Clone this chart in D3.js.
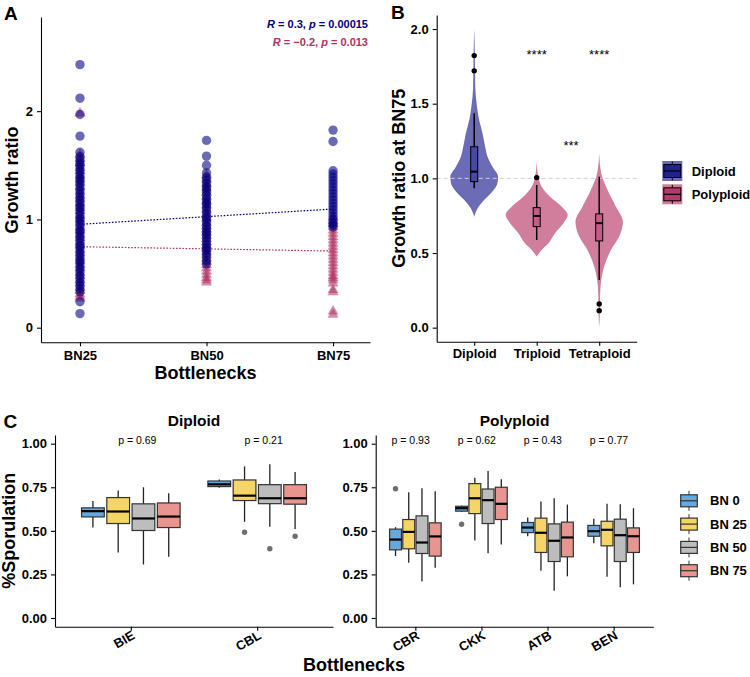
<!DOCTYPE html>
<html><head><meta charset="utf-8">
<script src="https://cdn.jsdelivr.net/npm/d3@7"></script>
<style>body{margin:0;background:#fff}</style>
</head><body><svg id="c" width="750" height="677"></svg>
<script>
// ================= DATA =================
// Panel A
const bottlenecks = ["BN25", "BN50", "BN75"];
const bnLevel = [25, 50, 75];
const diploidBN25 = [2.43,2.12,1.97,1.77,1.62,1.58,1.55,1.52,1.50,1.47,1.44,1.41,1.38,1.36,1.33,1.30,1.27,1.24,1.21,1.18,1.15,1.12,1.10,1.07,1.04,1.01,0.99,0.96,0.93,0.90,0.88,0.85,0.82,0.79,0.76,0.74,0.71,0.68,0.65,0.62,0.60,0.57,0.54,0.51,0.48,0.45,0.42,0.39,0.36,0.33,0.24,0.13];
const diploidBN50 = [1.73,1.585,1.50,1.43,1.39,1.36,1.33,1.30,1.28,1.25,1.22,1.19,1.16,1.14,1.11,1.08,1.05,1.02,1.00,0.97,0.94,0.91,0.88,0.86,0.83,0.80,0.77,0.74,0.72,0.69,0.66,0.62,0.59];
const diploidBN75 = [1.825,1.72,1.45,1.42,1.39,1.36,1.33,1.30,1.27,1.24,1.21,1.18,1.15,1.12,1.09,1.06,1.03,1.00,0.97,0.95,0.93];
const polyBN25 = [1.98,1.60,1.56,1.52,1.48,1.45,1.41,1.37,1.34,1.30,1.26,1.22,1.19,1.15,1.11,1.08,1.04,1.00,0.97,0.93,0.90,0.86,0.83,0.79,0.76,0.72,0.69,0.65,0.62,0.58,0.55,0.51,0.48,0.44,0.41,0.37,0.34,0.31,0.29,0.27];
const polyBN50 = [1.41,1.37,1.33,1.29,1.25,1.21,1.17,1.13,1.09,1.05,1.01,0.97,0.94,0.91,0.88,0.85,0.82,0.79,0.76,0.73,0.70,0.67,0.64,0.61,0.58,0.55,0.52,0.49,0.46,0.44,0.42];
const polyBN75 = [1.02,0.99,0.96,0.93,0.90,0.87,0.84,0.81,0.78,0.75,0.72,0.69,0.66,0.63,0.60,0.57,0.54,0.51,0.48,0.46,0.44,0.41,0.35,0.33,0.15,0.12];
const diploidFit = [0.955, 1.096];   // fitted value at BN25 and BN75
const polyploidFit = [0.748, 0.708];
const corR = ["0.3", "\u22120.2"];
const corP = ["0.00015", "0.013"];

// Panel B
const ploidy = ["Diploid", "Triploid", "Tetraploid"];
const ploidyGroup = ["Diploid", "Polyploid", "Polyploid"];
const violinDiploid = [[2.0,0],[1.84,0.02],[1.61,0.035],[1.48,0.09],[1.39,0.16],[1.30,0.27],[1.21,0.355],[1.145,0.43],[1.078,0.59],[1.011,0.77],[0.967,0.75],[0.90,0.54],[0.844,0.27],[0.80,0.11],[0.743,0]];
const violinTriploid = [[1.112,0],[1.011,0.055],[0.944,0.16],[0.877,0.43],[0.81,0.81],[0.755,1.0],[0.70,0.86],[0.632,0.59],[0.565,0.38],[0.52,0.16],[0.476,0]];
const violinTetraploid = [[1.168,0],[1.034,0.065],[0.922,0.27],[0.81,0.54],[0.71,0.765],[0.61,0.645],[0.52,0.38],[0.409,0.16],[0.32,0.065],[0.23,0.032],[0.096,0.022],[0.0,0]];
const ploidyLow = [0.934, 0.587, 0.32];
const ploidyQ1 = [0.978, 0.677, 0.581];
const ploidyMedian = [1.045, 0.748, 0.70];
const ploidyQ3 = [1.212, 0.804, 0.762];
const ploidyHigh = [1.436, 0.956, 1.011];
const ploidyOutliers = [[1.822, 1.72], [1.005], [0.159, 0.114]];
const sigLabels = ["****", "****", "***"];
const sigPos = [1, 2, 1.55];
const sigY = [1.80, 1.80, 1.19];

// Panel C
const bnGroups = ["BN 0", "BN 25", "BN 50", "BN 75"];
const diploidStrains = ["BIE", "CBL"];
const polyStrains = ["CBR", "CKK", "ATB", "BEN"];
const strainP = ["p = 0.69", "p = 0.21", "p = 0.93", "p = 0.62", "p = 0.43", "p = 0.77"];
const sporLow = [[0.519,0.376,0.307,0.351],[0.748,0.552,0.523,0.511],[0.355,0.317,0.210,0.288],[0.609,0.445,0.372,0.422],[0.469,0.271,0.156,0.239],[0.429,0.237,0.176,0.193]];
const sporQ1 = [[0.580,0.542,0.502,0.519],[0.754,0.674,0.656,0.653],[0.391,0.397,0.370,0.355],[0.613,0.599,0.542,0.565],[0.490,0.376,0.324,0.351],[0.469,0.414,0.324,0.376]];
const sporMed = [[0.613,0.611,0.571,0.582],[0.767,0.702,0.687,0.687],[0.450,0.494,0.433,0.468],[0.630,0.687,0.676,0.655],[0.519,0.489,0.443,0.462],[0.498,0.506,0.475,0.469]];
const sporQ3 = [[0.632,0.691,0.655,0.660],[0.786,0.792,0.765,0.765],[0.510,0.565,0.586,0.546],[0.641,0.771,0.740,0.750],[0.548,0.573,0.540,0.550],[0.531,0.555,0.567,0.517]];
const sporHigh = [[0.672,0.731,0.750,0.716],[0.794,0.870,0.882,0.838],[0.521,0.721,0.744,0.727],[0.645,0.805,0.844,0.796],[0.576,0.668,0.687,0.651],[0.569,0.655,0.653,0.630]];
const sporOut = [[[],[],[],[]],[[],[0.492],[0.397],[0.469]],[[0.742],[],[],[]],[[0.538],[],[],[]],[[],[],[],[]],[[],[],[],[]]];

// ================= DRAW =================
const F = '"Liberation Sans", Arial, Helvetica, sans-serif';
const svg = d3.select("#c");
const NAVY = "#000080", MAROON = "#B03060";
const bnColors = ["#67A9DD", "#F5D565", "#BDBDBD", "#E8948F"];

function styleAxis(g, fs) {
  g.attr("font-family", F).attr("font-size", fs).attr("font-weight", "bold");
  g.selectAll("path.domain").attr("stroke", "#000").attr("stroke-width", 1.1);
  g.selectAll(".tick line").attr("stroke", "#000").attr("stroke-width", 1.1);
  g.selectAll(".tick text").attr("fill", "#000");
}
function txt(x, y, s, o = {}) {
  const t = svg.append("text").attr("x", x).attr("y", y).text(s)
    .attr("font-family", F).attr("font-size", o.size || 13)
    .attr("font-weight", o.weight || "bold").attr("fill", o.fill || "#000")
    .attr("text-anchor", o.anchor || "start");
  if (o.rotate) t.attr("transform", `rotate(${o.rotate},${x},${y})`);
  return t;
}

// ---------- Panel A ----------
const xA = d3.scaleLinear().domain([17.3, 82.3]).range([41, 370]);
const yA = d3.scaleLinear().domain([-0.135, 2.87]).range([342.3, 17]);
const gA = svg.append("g");
[[diploidFit, NAVY], [polyploidFit, MAROON]].forEach(([fit, col]) => {
  gA.append("line").attr("x1", xA(bnLevel[0])).attr("x2", xA(bnLevel[2]))
    .attr("y1", yA(fit[0])).attr("y2", yA(fit[1]))
    .attr("stroke", col).attr("stroke-width", 1.2).attr("stroke-dasharray", "1.6,1.6");
});
const polyLists = [polyBN25, polyBN50, polyBN75];
const dipLists = [diploidBN25, diploidBN50, diploidBN75];
const tri = d3.symbol().type(d3.symbolTriangle).size(52);
polyLists.forEach((arr, i) => {
  gA.append("g").selectAll("path").data(arr).join("path")
    .attr("d", tri).attr("transform", d => `translate(${xA(bnLevel[i])},${yA(d)})`)
    .attr("fill", MAROON).attr("fill-opacity", 0.55);
});
dipLists.forEach((arr, i) => {
  gA.append("g").selectAll("circle").data(arr).join("circle")
    .attr("cx", xA(bnLevel[i])).attr("cy", d => yA(d)).attr("r", 4.7)
    .attr("fill", NAVY).attr("fill-opacity", 0.58);
});
const axA_x = gA.append("g").attr("transform", "translate(0,342.3)")
  .call(d3.axisBottom(xA).tickValues(bnLevel).tickFormat((d, i) => bottlenecks[i]).tickSize(4).tickSizeOuter(0).tickPadding(4));
styleAxis(axA_x, 13);
const axA_y = gA.append("g").attr("transform", "translate(41,0)")
  .call(d3.axisLeft(yA).tickValues([0, 1, 2]).tickFormat(d3.format("d")).tickSize(4).tickSizeOuter(0).tickPadding(4));
styleAxis(axA_y, 13);
txt(205.5, 379, "Bottlenecks", {size: 18, anchor: "middle"});
txt(17.5, 180, "Growth ratio", {size: 18, anchor: "middle", rotate: -90});
[[corR[0], corP[0], NAVY, 28], [corR[1], corP[1], MAROON, 46]].forEach(([r, p, col, y]) => {
  const t = svg.append("text").attr("x", 368).attr("y", y).attr("text-anchor", "end")
    .attr("font-family", F).attr("font-size", 11).attr("font-weight", "bold").attr("fill", col);
  t.append("tspan").attr("font-style", "italic").text("R");
  t.append("tspan").text(" = " + r + ", ");
  t.append("tspan").attr("font-style", "italic").text("p");
  t.append("tspan").text(" = " + p);
});
txt(4, 19.5, "A", {size: 19});

// ---------- Panel B ----------
const xB = d3.scalePoint().domain(ploidy).range([436.7, 636.7]).padding(0.6);
const yB = d3.scaleLinear().domain([-0.094, 2.094]).range([341.7, 15]);
const wB = d3.scaleLinear().domain([0, 1]).range([0, 31]);
const violinFill = {Diploid: "#6b6bb6", Polyploid: "#d17d9c"};
const boxFill = {Diploid: "#4848a6", Polyploid: "#c35d86"};
const keyFill = {Diploid: "#22228c", Polyploid: "#b73a6c"};
const gB = svg.append("g");
[violinDiploid, violinTriploid, violinTetraploid].forEach((prof, i) => {
  const cx = xB(ploidy[i]);
  const area = d3.area().y(d => yB(d[0])).x0(d => cx - wB(d[1])).x1(d => cx + wB(d[1])).curve(d3.curveMonotoneY);
  gB.append("path").attr("d", area(prof)).attr("fill", violinFill[ploidyGroup[i]]);
});
gB.append("line").attr("x1", 436.7).attr("x2", 636.7).attr("y1", yB(1)).attr("y2", yB(1))
  .attr("stroke", "#cfcfcf").attr("stroke-width", 1).attr("stroke-dasharray", "4,3");
ploidy.forEach((p, i) => {
  const cx = xB(p), bw = 7;
  gB.append("line").attr("x1", cx).attr("x2", cx).attr("y1", yB(ploidyHigh[i])).attr("y2", yB(ploidyQ3[i])).attr("stroke", "#000").attr("stroke-width", 1.5);
  gB.append("line").attr("x1", cx).attr("x2", cx).attr("y1", yB(ploidyQ1[i])).attr("y2", yB(ploidyLow[i])).attr("stroke", "#000").attr("stroke-width", 1.5);
  gB.append("rect").attr("x", cx - bw / 2).attr("width", bw).attr("y", yB(ploidyQ3[i])).attr("height", yB(ploidyQ1[i]) - yB(ploidyQ3[i]))
    .attr("fill", boxFill[ploidyGroup[i]]).attr("stroke", "#000").attr("stroke-width", 1);
  gB.append("line").attr("x1", cx - bw / 2).attr("x2", cx + bw / 2).attr("y1", yB(ploidyMedian[i])).attr("y2", yB(ploidyMedian[i])).attr("stroke", "#000").attr("stroke-width", 2);
  ploidyOutliers[i].forEach(o => gB.append("circle").attr("cx", cx).attr("cy", yB(o)).attr("r", 2.7).attr("fill", "#000"));
});
const stepB = xB.step();
sigLabels.forEach((s, i) => {
  const x = xB(ploidy[0]) + sigPos[i] * stepB;
  txt(x, yB(sigY[i]), s, {size: 13, weight: "normal", anchor: "middle"});
});
const axB_x = gB.append("g").attr("transform", "translate(0,341.7)")
  .call(d3.axisBottom(xB).tickSize(4).tickSizeOuter(0).tickPadding(3));
styleAxis(axB_x, 13);
const axB_y = gB.append("g").attr("transform", "translate(436.7,0)")
  .call(d3.axisLeft(yB).tickValues([0, 0.5, 1, 1.5, 2]).tickFormat(d3.format(".1f")).tickSize(4).tickSizeOuter(0).tickPadding(4));
styleAxis(axB_y, 13);
txt(405, 178.3, "Growth ratio at BN75", {size: 18, anchor: "middle", rotate: -90});
txt(391, 18.8, "B", {size: 19});
["Diploid", "Polyploid"].forEach((g, i) => {
  const y0 = 161 + i * 23.3, x0 = 662.3;
  svg.append("rect").attr("x", x0).attr("y", y0).attr("width", 20).attr("height", 20).attr("fill", violinFill[g]);
  svg.append("line").attr("x1", x0 + 10).attr("x2", x0 + 10).attr("y1", y0 + 0.5).attr("y2", y0 + 19.5).attr("stroke", "#000").attr("stroke-width", 1);
  svg.append("rect").attr("x", x0 + 1.5).attr("y", y0 + 3.5).attr("width", 17).attr("height", 13).attr("fill", keyFill[g]).attr("stroke", "#000").attr("stroke-width", 1);
  svg.append("line").attr("x1", x0 + 1.5).attr("x2", x0 + 18.5).attr("y1", y0 + 10).attr("y2", y0 + 10).attr("stroke", "#000").attr("stroke-width", 1.2);
  txt(691.7, y0 + 14.5, g, {size: 13});
});

// ---------- Panel C ----------
const yC = d3.scaleLinear().domain([-0.05, 1.05]).range([626.7, 435]);
function facet(strains, r0, r1, startIdx, title, pNudge) {
  const x = d3.scalePoint().domain(strains).range([r0, r1]).padding(0.6);
  const g = svg.append("g");
  const groupW = 0.8 * x.step(), slot = groupW / 4, bw = slot * 0.9;
  strains.forEach((s, si) => {
    const k = startIdx + si, cx = x(s);
    bnGroups.forEach((b, j) => {
      const c = cx - groupW / 2 + slot * (j + 0.5);
      g.append("line").attr("x1", c).attr("x2", c).attr("y1", yC(sporHigh[k][j])).attr("y2", yC(sporQ3[k][j])).attr("stroke", "#222").attr("stroke-width", 1.3);
      g.append("line").attr("x1", c).attr("x2", c).attr("y1", yC(sporQ1[k][j])).attr("y2", yC(sporLow[k][j])).attr("stroke", "#222").attr("stroke-width", 1.3);
      g.append("rect").attr("x", c - bw / 2).attr("width", bw).attr("y", yC(sporQ3[k][j])).attr("height", yC(sporQ1[k][j]) - yC(sporQ3[k][j]))
        .attr("fill", bnColors[j]).attr("stroke", "#333").attr("stroke-width", 1.2);
      g.append("line").attr("x1", c - bw / 2).attr("x2", c + bw / 2).attr("y1", yC(sporMed[k][j])).attr("y2", yC(sporMed[k][j])).attr("stroke", "#000").attr("stroke-width", 2.2);
      sporOut[k][j].forEach(o => g.append("circle").attr("cx", c).attr("cy", yC(o)).attr("r", 2.7).attr("fill", "#6e6e6e"));
    });
    txt(cx + pNudge, 444, strainP[k], {size: 10.5, weight: "normal", anchor: "middle"});
  });
  const ax = g.append("g").attr("transform", "translate(0,626.7)")
    .call(d3.axisBottom(x).tickSize(4).tickSizeOuter(0).tickFormat(() => ""));
  styleAxis(ax, 13);
  strains.forEach(s => txt(x(s) + 5, 638, s, {size: 13, anchor: "end", rotate: -30}));
  const ay = g.append("g").attr("transform", `translate(${r0},0)`)
    .call(d3.axisLeft(yC).tickValues([0, 0.25, 0.5, 0.75, 1]).tickFormat(d3.format(".2f")).tickSize(4).tickSizeOuter(0).tickPadding(4));
  styleAxis(ay, 13);
  txt((r0 + r1) / 2, 426.3, title, {size: 15.5, anchor: "middle"});
}
facet(diploidStrains, 55, 333, 0, "Diploid", 6.5);
facet(polyStrains, 375.7, 653.3, 2, "Polyploid", -4.7);
txt(354, 671, "Bottlenecks", {size: 18, anchor: "middle"});
txt(15.5, 530.8, "%Sporulation", {size: 18, anchor: "middle", rotate: -90});
txt(3.5, 427.5, "C", {size: 19});
bnGroups.forEach((b, i) => {
  const cy = 500.8 + i * 23.3, x0 = 680.7;
  svg.append("line").attr("x1", x0 + 8.3).attr("x2", x0 + 8.3).attr("y1", cy - 10).attr("y2", cy + 10).attr("stroke", "#333").attr("stroke-width", 1);
  svg.append("rect").attr("x", x0).attr("y", cy - 6).attr("width", 16.6).attr("height", 12).attr("fill", bnColors[i]).attr("stroke", "#333").attr("stroke-width", 1.2);
  svg.append("line").attr("x1", x0).attr("x2", x0 + 16.6).attr("y1", cy).attr("y2", cy).attr("stroke", "#333").attr("stroke-width", 1.2);
  txt(710, cy + 4.6, b, {size: 13});
});
</script></body></html>
